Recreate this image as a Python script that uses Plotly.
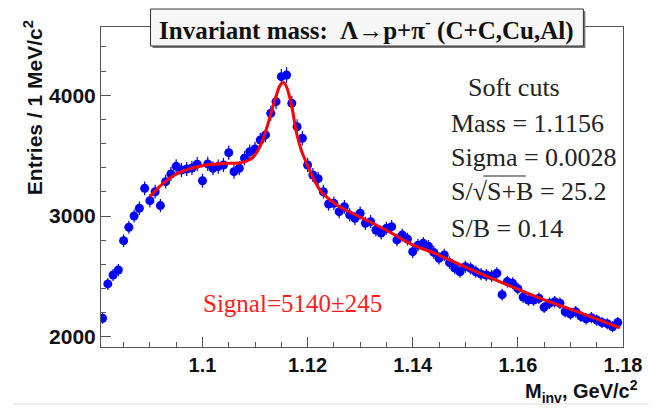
import numpy as np
import plotly.graph_objects as go

# ---- data ----
bin_first_center = 1.081   # GeV/c^2
bin_width = 0.001          # 1 MeV bins
counts = [2155, 2439, 2513, 2554, 2797, 2908, 3001, 3065, 3230, 3128,
          3202, 3087, 3285, 3349, 3412, 3382, 3390, 3398, 3430, 3293,
          3432, 3396, 3410, 3423, 3525, 3368, 3396, 3479, 3533, 3555,
          3630, 3672, 3851, 3947, 4154, 4168, 3934, 3740, 3644, 3423,
          3340, 3310, 3202, 3100, 3106, 3037, 3078, 3010, 2982, 3024,
          2941, 2954, 2885, 2860, 2900, 2913, 2803, 2844, 2810, 2706,
          2760, 2775, 2750, 2700, 2651, 2679, 2615, 2570, 2540, 2582,
          2568, 2540, 2520, 2513, 2505, 2527, 2350, 2458, 2444, 2400,
          2330, 2306, 2306, 2320, 2245, 2279, 2292, 2279, 2209, 2190,
          2209, 2170, 2150, 2160, 2140, 2120, 2110, 2085, 2120]
mass = [round(bin_first_center + bin_width * i, 4) for i in range(len(counts))]

fit_x = [1.0900, 1.0922, 1.0947, 1.0979, 1.1009, 1.1048, 1.1073, 1.1092,
         1.1102, 1.1112, 1.1123, 1.1136, 1.1148, 1.1155, 1.1161, 1.1170,
         1.1179, 1.1189, 1.1201, 1.1214, 1.1226, 1.1261, 1.1305, 1.1355,
         1.1399, 1.1443, 1.1474, 1.1518, 1.1581, 1.1644, 1.1706, 1.1738,
         1.1794]
fit_y = [3160, 3258, 3340, 3396, 3423, 3437, 3442, 3472,
         3520, 3600, 3740, 3934, 4085, 4105, 4058, 3906,
         3686, 3533, 3409, 3285, 3202, 3078, 2982, 2871,
         2765, 2690, 2630, 2545, 2430, 2318, 2220, 2168,
         2075]

x_tickvals = [1.10, 1.12, 1.14, 1.16, 1.18]
x_ticktext = ["1.1", "1.12", "1.14", "1.16", "1.18"]
y_tickvals = [2000, 3000, 4000]
y_ticktext = ["2000", "3000", "4000"]

stats_lines = ["Mass = 1.1156", "Sigma = 0.0028", "S/\u221aS+B = 25.2", "S/B = 0.14"]
signal_text = "Signal=5140\u00b1245"

# ---- layout geometry (pixels) ----
W, H = 654, 411
L, R, T, B = 101, 628, 27, 347


def pxx(p):
    return (p - L) / (R - L)


def pxy(p):
    return (B - p) / (B - T)


fig = go.Figure()
fig.add_trace(go.Scatter(
    x=mass, y=counts, mode="markers",
    marker=dict(color="#0000ff", size=9),
    error_y=dict(type="data", array=list(np.sqrt(counts)), color="#0000ff",
                 thickness=1.2, width=0),
    error_x=dict(type="constant", value=bin_width / 2, color="#0000ff",
                 thickness=1.2, width=0),
    showlegend=False, hoverinfo="skip"))
fig.add_trace(go.Scatter(
    x=fit_x, y=fit_y, mode="lines",
    line=dict(color="#ff0000", width=3, shape="spline", smoothing=0.8),
    showlegend=False, hoverinfo="skip"))

axis_col = "#555555"
xtickfont = dict(family="Liberation Sans", size=20, color="#111111", weight="bold")
ytickfont = dict(family="Liberation Sans", size=21, color="#111111", weight="bold")
fig.update_xaxes(range=[1.0807, 1.18], showline=True, mirror=True,
                 linecolor=axis_col, linewidth=1, ticks="inside", ticklen=10,
                 tickcolor=axis_col, tickvals=x_tickvals, ticktext=x_ticktext,
                 tickfont=xtickfont, showgrid=False, zeroline=False,
                 minor=dict(tick0=1.1, dtick=0.005, ticks="inside", ticklen=5,
                            tickcolor=axis_col, showgrid=False))
fig.update_yaxes(range=[1917, 4565], showline=True, mirror=True,
                 linecolor=axis_col, linewidth=1, ticks="inside", ticklen=10,
                 tickcolor=axis_col, tickvals=y_tickvals, ticktext=y_ticktext,
                 tickfont=ytickfont, showgrid=False, zeroline=False,
                 minor=dict(tick0=2000, dtick=200, ticks="inside", ticklen=5,
                            tickcolor=axis_col, showgrid=False))

shapes = []
# title box shadow + box
shapes.append(dict(type="rect", xref="paper", yref="paper",
                   x0=pxx(153), x1=pxx(590), y0=pxy(11), y1=pxy(48),
                   fillcolor="#777777", line=dict(width=0), layer="above"))
shapes.append(dict(type="rect", xref="paper", yref="paper",
                   x0=pxx(151), x1=pxx(588), y0=pxy(9), y1=pxy(46),
                   fillcolor="#f7f7f7", line=dict(color="#333333", width=1),
                   layer="above"))
# overline of the square root
shapes.append(dict(type="line", xref="paper", yref="paper",
                   x0=pxx(487), x1=pxx(530), y0=pxy(176), y1=pxy(176),
                   line=dict(color="#222222", width=1.2)))
# faint bottom border of the original picture
shapes.append(dict(type="line", xref="paper", yref="paper",
                   x0=pxx(12), x1=pxx(654), y0=pxy(404), y1=pxy(404),
                   line=dict(color="#dddddd", width=1)))

serif = "Liberation Serif"
ann = []
ann.append(dict(text="Invariant mass:\u00a0\u00a0\u039b\u2192p+\u03c0<sup>-</sup> (C+C,Cu,Al)",
                x=pxx(369.5), y=pxy(28), xref="paper", yref="paper",
                xanchor="center", yanchor="middle", showarrow=False,
                font=dict(family=serif, size=25, color="#111111", weight="bold")))
ann.append(dict(text="Soft cuts", x=pxx(518), y=pxy(87), xref="paper", yref="paper",
                xanchor="center", yanchor="middle", showarrow=False,
                font=dict(family=serif, size=26, color="#222222")))
for txt, yy in zip(stats_lines, [123, 157, 191, 228]):
    ann.append(dict(text=txt, x=pxx(452), y=pxy(yy), xref="paper", yref="paper",
                    xanchor="left", yanchor="middle", showarrow=False,
                    font=dict(family=serif, size=26, color="#222222")))
ann.append(dict(text=signal_text, x=pxx(202), y=pxy(303), xref="paper", yref="paper",
                xanchor="left", yanchor="middle", showarrow=False,
                font=dict(family=serif, size=25, color="#ff2020")))
ann.append(dict(text="Entries / 1 MeV/c<sup>2</sup>", textangle=-90,
                x=pxx(32), y=pxy(18), xref="paper", yref="paper",
                xanchor="center", yanchor="top", showarrow=False,
                font=dict(family="Liberation Sans", size=21, color="#111111", weight="bold")))
ann.append(dict(text="M<sub>inv</sub>, GeV/c<sup>2</sup>",
                x=pxx(645), y=pxy(391), xref="paper", yref="paper",
                xanchor="right", yanchor="middle", showarrow=False,
                font=dict(family="Liberation Sans", size=20, color="#111111", weight="bold")))

fig.update_layout(width=W, height=H,
                  margin=dict(l=L, r=W - R, t=T, b=H - B),
                  paper_bgcolor="white", plot_bgcolor="white",
                  shapes=shapes, annotations=ann, showlegend=False)

fig.write_html("out.html")
